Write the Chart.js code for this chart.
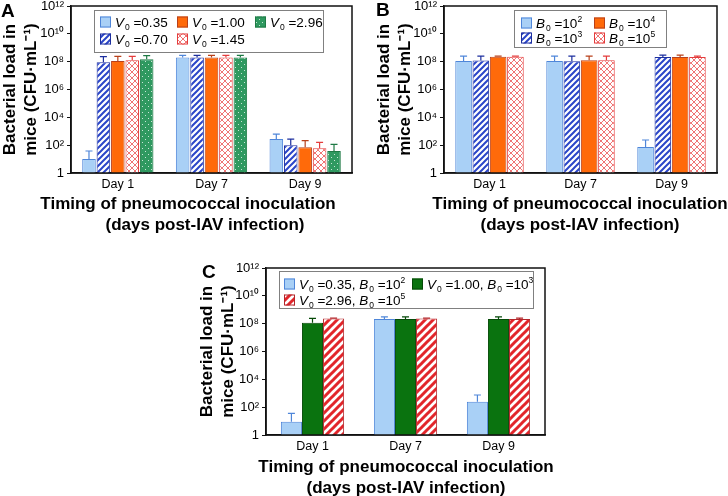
<!DOCTYPE html>
<html>
<head>
<meta charset="utf-8">
<script src="https://cdn.jsdelivr.net/npm/chart.js@4"></script>
<style>
  body { margin: 0; background: #fff; width: 728px; height: 496px; overflow: hidden; position: relative;
         font-family: Arial, "Liberation Sans", sans-serif; }
  canvas { position: absolute; }
  .letter { position: absolute; font-weight: bold; font-size: 19px; line-height: 19px; }
  .xt { position: absolute; width: 400px; text-align: center; font-weight: bold; font-size: 17px;
        line-height: 21px; white-space: nowrap; }
</style>
</head>
<body>
<canvas id="cA" width="364" height="245" style="left:0;top:0;width:364px;height:245px"></canvas>
<canvas id="cB" width="364" height="245" style="left:364px;top:0;width:364px;height:245px"></canvas>
<canvas id="cC" width="400" height="251" style="left:180px;top:245px;width:400px;height:251px"></canvas>

<div class="letter" style="left:1px;top:1px">A</div>
<div class="letter" style="left:376px;top:0px">B</div>
<div class="letter" style="left:202px;top:262px">C</div>

<!-- x-axis titles, one div per line -->
<div class="xt" style="left:-12px;top:193px">Timing of pneumococcal inoculation</div>
<div class="xt" style="left:5px;top:214px">(days post-IAV infection)</div>
<div class="xt" style="left:380px;top:193px">Timing of pneumococcal inoculation</div>
<div class="xt" style="left:380px;top:214px">(days post-IAV infection)</div>
<div class="xt" style="left:206px;top:456px">Timing of pneumococcal inoculation</div>
<div class="xt" style="left:206px;top:477px">(days post-IAV infection)</div>

<script>
// ---- data -------------------------------------------------------------
const days = ['Day 1', 'Day 7', 'Day 9'];
const yTicks = [1, 1e2, 1e4, 1e6, 1e8, 1e10, 1e12];
const yTickLabels = ['1', '10²', '10⁴', '10⁶', '10⁸', '10¹⁰', '10¹²'];
const yTitle = ['Bacterial load in', 'mice (CFU·mL⁻¹)'];

// panel A - varying viral inoculum V0 (mean and upper error bar end)
const aLabels = ['V_0 =0.35', 'V_0 =0.70', 'V_0 =1.00', 'V_0 =1.45', 'V_0 =2.96'];
const aMeans = [
  [10, 2.0e8, 275],
  [9.0e7, 2.0e8, 100],
  [1.1e8, 2.0e8, 70],
  [1.25e8, 2.0e8, 60],
  [1.5e8, 2.0e8, 38]
];
const aUpper = [
  [38, 2.8e8, 630],
  [2.3e8, 2.8e8, 275],
  [2.4e8, 2.8e8, 210],
  [2.4e8, 2.8e8, 160],
  [2.7e8, 2.8e8, 115]
];

// panel B - varying bacterial inoculum B0
const bLabels = ['B_0 =10^2', 'B_0 =10^3', 'B_0 =10^4', 'B_0 =10^5'];
const bMeans = [
  [1.1e8, 1.1e8, 74],
  [1.2e8, 1.05e8, 2.2e8],
  [2.3e8, 1.25e8, 2.2e8],
  [2.3e8, 1.25e8, 2.2e8]
];
const bUpper = [
  [2.5e8, 2.5e8, 235],
  [2.5e8, 2.5e8, 3.0e8],
  [2.5e8, 2.5e8, 3.0e8],
  [2.5e8, 2.5e8, 2.5e8]
];

// panel C - combinations
const cLabels = ['V_0 =0.35, B_0 =10^2', 'V_0 =1.00, B_0 =10^3', 'V_0 =2.96, B_0 =10^5'];
const cMeans = [
  [9, 2.15e8, 245],
  [1.17e8, 2.15e8, 2.15e8],
  [2.4e8, 2.4e8, 2.15e8]
];
const cUpper = [
  [36, 3.1e8, 750],
  [2.4e8, 3.1e8, 3.1e8],
  [2.5e8, 2.5e8, 2.5e8]
];

const FONT = 'Arial, "Liberation Sans", sans-serif';
Chart.defaults.font.family = FONT;
Chart.defaults.color = '#000';

// ---- fill patterns ----------------------------------------------------
function tile(size, draw) {
  const c = document.createElement('canvas');
  c.width = c.height = size;
  draw(c.getContext('2d'), size);
  return c;
}
function diag(g, s) {
  g.beginPath();
  g.moveTo(-2, 2); g.lineTo(2, -2);
  g.moveTo(0, s); g.lineTo(s, 0);
  g.moveTo(s - 2, s + 2); g.lineTo(s + 2, s - 2);
  g.stroke();
}
function makePatterns(ctx) {
  return {
    blueHatch: ctx.createPattern(tile(6, (g, s) => {
      g.fillStyle = '#fff'; g.fillRect(0, 0, s, s);
      g.strokeStyle = '#2a45c8'; g.lineWidth = 2; diag(g, s);
    }), 'repeat'),
    redCross: ctx.createPattern(tile(6, (g, s) => {
      g.fillStyle = '#fff'; g.fillRect(0, 0, s, s);
      g.strokeStyle = '#ef7474'; g.lineWidth = 1; diag(g, s);
      g.beginPath();
      g.moveTo(-2, -2); g.lineTo(s + 2, s + 2);
      g.moveTo(-2, s - 2); g.lineTo(2, s + 2);
      g.moveTo(s - 2, -2); g.lineTo(s + 2, 2);
      g.stroke();
    }), 'repeat'),
    greenDots: ctx.createPattern(tile(6, (g, s) => {
      g.fillStyle = '#2f9960'; g.fillRect(0, 0, s, s);
      g.fillStyle = 'rgba(255,255,255,0.75)';
      g.fillRect(1, 1, 1, 1); g.fillRect(4, 4, 1, 1);
    }), 'repeat'),
    redStripe: ctx.createPattern(tile(8, (g, s) => {
      g.fillStyle = '#fff'; g.fillRect(0, 0, s, s);
      g.strokeStyle = '#e2262b'; g.lineWidth = 3; diag(g, s);
    }), 'repeat')
  };
}

// ---- rich legend text (italic letter, sub / superscripts) ----------------
function richParts(s) {
  const parts = [];
  let buf = '', i = 0;
  while (i < s.length) {
    const c = s[i];
    if (/[A-Z]/.test(c) && s[i + 1] === '_') {
      if (buf) parts.push({ t: buf }); buf = '';
      parts.push({ t: c, it: true });
      parts.push({ t: s[i + 2], sub: true });
      i += 3;
    } else if (c === '^') {
      if (buf) parts.push({ t: buf }); buf = '';
      let j = i + 1, d = '';
      while (j < s.length && /\d/.test(s[j])) d += s[j++];
      parts.push({ t: d, sup: true });
      i = j;
    } else { buf += c; i++; }
  }
  if (buf) parts.push({ t: buf });
  return parts;
}
function drawRich(ctx, text, x, y) {
  ctx.textBaseline = 'alphabetic';
  ctx.textAlign = 'left';
  ctx.fillStyle = '#000';
  const base = y + 5;
  richParts(text).forEach(p => {
    let size = 13.5, dy = 0;
    if (p.sub) { size = 8.5; dy = 3; }
    if (p.sup) { size = 8.5; dy = -6; }
    ctx.font = (p.it ? 'italic ' : '') + size + 'px ' + FONT;
    ctx.fillText(p.t, x, base + dy);
    x += ctx.measureText(p.t).width + (p.it ? 1 : 0);
  });
}

// ---- plugins ------------------------------------------------------------
const errorBars = {
  id: 'errorBars',
  afterDatasetsDraw(chart) {
    const { ctx } = chart;
    const y = chart.scales.y;
    chart.data.datasets.forEach((ds, i) => {
      const meta = chart.getDatasetMeta(i);
      ctx.save();
      ctx.strokeStyle = ds.borderColor;
      ctx.lineWidth = 1.2;
      meta.data.forEach((bar, j) => {
        const top = y.getPixelForValue(ds.upper[j]);
        ctx.beginPath();
        ctx.moveTo(bar.x, bar.y);
        ctx.lineTo(bar.x, top);
        ctx.moveTo(bar.x - 3.5, top);
        ctx.lineTo(bar.x + 3.5, top);
        ctx.stroke();
      });
      ctx.restore();
    });
  }
};

const frameLegend = {
  id: 'frameLegend',
  afterDraw(chart, args, opts) {
    const { ctx, chartArea: a } = chart;
    ctx.save();
    ctx.strokeStyle = '#111';
    ctx.lineWidth = 1.5;
    ctx.strokeRect(a.left, a.top, a.right - a.left, a.bottom - a.top);

    const [bx, by, bw, bh] = opts.box;
    ctx.fillStyle = '#fff';
    ctx.fillRect(bx, by, bw, bh);
    ctx.strokeStyle = '#808080';
    ctx.lineWidth = 1;
    ctx.strokeRect(bx + 0.5, by + 0.5, bw, bh);
    chart.data.datasets.forEach((ds, i) => {
      const [sx, sy] = opts.slots[i];
      ctx.fillStyle = ds.backgroundColor;
      ctx.fillRect(sx, sy - 5.5, 11, 11);
      ctx.strokeStyle = ds.borderColor;
      ctx.strokeRect(sx + 0.5, sy - 5, 10, 10);
      drawRich(ctx, ds.label, sx + 15, sy);
    });
    ctx.restore();
  }
};

// ---- chart builder ------------------------------------------------------
function buildChart(id, labels, means, upper, styles, lay) {
  const ctx = document.getElementById(id).getContext('2d');
  const pat = makePatterns(ctx);
  const datasets = labels.map((lab, i) => ({
    label: lab,
    data: means[i],
    upper: upper[i],
    backgroundColor: pat[styles[i].bg] || styles[i].bg,
    borderColor: styles[i].border,
    borderWidth: 1,
    borderSkipped: 'bottom',
    categoryPercentage: lay.catPct,
    barPercentage: lay.barPct
  }));

  return new Chart(ctx, {
    type: 'bar',
    data: { labels: days, datasets },
    options: {
      responsive: false,
      animation: false,
      layout: { padding: { top: lay.top, right: lay.right, left: 0, bottom: 0 } },
      plugins: {
        legend: { display: false },
        tooltip: { enabled: false },
        frameLegend: { box: lay.box, slots: lay.slots }
      },
      scales: {
        x: {
          ticks: { color: '#000', font: { size: 12.5 }, padding: 4 },
          grid: { display: false, drawTicks: false },
          border: { color: '#111', width: 1.5 },
          afterFit: s => { s.height = lay.xHeight; s.paddingLeft = 0; s.paddingRight = 0; }
        },
        y: {
          type: 'logarithmic',
          min: 1,
          max: 1e12,
          afterBuildTicks: s => { s.ticks = yTicks.map(v => ({ value: v })); },
          ticks: {
            autoSkip: false,
            color: '#000',
            font: { size: 13 },
            padding: 3,
            callback: v => yTickLabels[yTicks.indexOf(v)] ?? ''
          },
          grid: { drawOnChartArea: false, tickLength: 4, color: '#111', lineWidth: 1 },
          border: { color: '#111', width: 1.5 },
          title: {
            display: true,
            text: yTitle,
            color: '#000',
            font: { size: 17, weight: 'bold', lineHeight: '21px' },
            padding: { top: lay.titlePad, bottom: 0 }
          },
          afterFit: s => { s.width = lay.yWidth; s.paddingTop = 0; s.paddingBottom = 0; }
        }
      }
    },
    plugins: [errorBars, frameLegend]
  });
}

// legend is laid out row-wise: 0.35 | 1.00 | 2.96 / 0.70 | 1.45
buildChart('cA', aLabels, aMeans, aUpper, [
  { bg: '#a9d0f6', border: '#4f86d9' },
  { bg: 'blueHatch', border: '#1d2f9e' },
  { bg: '#ff6a0a', border: '#b8401a' },
  { bg: 'redCross', border: '#e43c3c' },
  { bg: 'greenDots', border: '#1f7a45' }
], {
  top: 6, right: 12, yWidth: 71, xHeight: 72, titlePad: 0,
  catPct: 0.77, barPct: 0.94,
  box: [94, 10, 229, 42],
  slots: [[100, 22], [100, 39], [177, 22], [177, 39], [255, 22]]
});

buildChart('cB', bLabels, bMeans, bUpper, [
  { bg: '#a9d0f6', border: '#4f86d9' },
  { bg: 'blueHatch', border: '#1d2f9e' },
  { bg: '#ff6a0a', border: '#b8401a' },
  { bg: 'redCross', border: '#e43c3c' }
], {
  top: 6, right: 11, yWidth: 80, xHeight: 72, titlePad: 10,
  catPct: 0.76, barPct: 0.96,
  box: [150, 10, 152, 37],
  slots: [[157, 23], [157, 38], [230, 23], [230, 38]]
});

buildChart('cC', cLabels, cMeans, cUpper, [
  { bg: '#a9d0f6', border: '#4f86d9' },
  { bg: '#0a730f', border: '#064a08' },
  { bg: 'redStripe', border: '#b3262a' }
], {
  top: 23, right: 35, yWidth: 86, xHeight: 61, titlePad: 17,
  catPct: 0.68, barPct: 1.0,
  box: [99, 26, 254, 37],
  slots: [[104, 39], [232, 39], [104, 55]]
});
</script>
</body>
</html>
